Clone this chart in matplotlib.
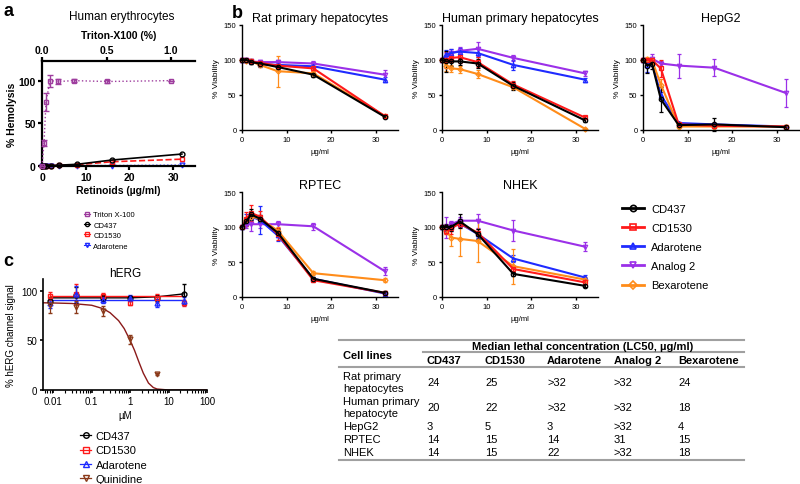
import matplotlib
matplotlib.use('Agg')
import numpy as np
import matplotlib.pyplot as plt
from matplotlib.lines import Line2D

plt.rcParams['font.family'] = ['Liberation Sans', 'DejaVu Sans']

# === panel a: hemolysis ===
retinoid_x = [0, 0.5, 1, 2, 4, 8, 16, 32]
hem_cd437 = [0, 0, 0, 0.5, 1, 2, 7, 14]
hem_cd1530 = [0, 0, 0, 0.3, 0.8, 1.5, 5, 8]
hem_adarotene = [0, 0, 0, 0, 0, 0.5, 0.5, 1]
triton_pct = [0, 0.0156, 0.031, 0.0625, 0.125, 0.25, 0.5, 1.0]
hem_triton = [0, 27, 75, 100, 99, 100, 99, 100]
hem_triton_err = [0, 3, 10, 7, 3, 2, 2, 0]

# === panel b: viability ===
conc = [0, 1, 2, 4, 8, 16, 32]
compounds = ['CD437', 'CD1530', 'Adarotene', 'Analog 2', 'Bexarotene']

rat = {
    'CD437': [100, 100, 97, 95, 90, 79, 19],
    'CD1530': [100, 100, 98, 96, 92, 88, 20],
    'Adarotene': [100, 100, 98, 94, 93, 91, 72],
    'Analog 2': [100, 100, 98, 97, 97, 95, 79],
    'Bexarotene': [100, 99, 98, 93, 84, 81, 20],
}
rat_err = {
    'CD437': [0, 2, 3, 3, 3, 3, 2],
    'CD1530': [0, 2, 2, 2, 2, 3, 2],
    'Adarotene': [0, 2, 3, 4, 3, 3, 4],
    'Analog 2': [0, 2, 2, 3, 3, 3, 7],
    'Bexarotene': [0, 2, 3, 3, 22, 3, 2],
}
human = {
    'CD437': [100, 98, 98, 98, 95, 63, 14],
    'CD1530': [100, 100, 103, 104, 97, 65, 18],
    'Adarotene': [100, 108, 110, 112, 110, 93, 72],
    'Analog 2': [100, 105, 110, 113, 116, 103, 81],
    'Bexarotene': [100, 92, 88, 87, 80, 61, 2],
}
human_err = {
    'CD437': [0, 15, 7, 5, 6, 6, 3],
    'CD1530': [0, 12, 6, 8, 7, 5, 2],
    'Adarotene': [0, 6, 5, 5, 6, 7, 3],
    'Analog 2': [0, 5, 5, 6, 10, 4, 4],
    'Bexarotene': [0, 8, 5, 5, 6, 3, 1],
}
hepg2 = {
    'CD437': [100, 92, 95, 44, 7, 8, 4],
    'CD1530': [100, 100, 100, 88, 8, 6, 5],
    'Adarotene': [100, 93, 97, 50, 10, 8, 5],
    'Analog 2': [100, 98, 102, 95, 92, 89, 53],
    'Bexarotene': [100, 101, 100, 65, 5, 5, 5],
}
hepg2_err = {
    'CD437': [0, 10, 8, 18, 3, 9, 2],
    'CD1530': [0, 3, 3, 12, 2, 2, 2],
    'Adarotene': [0, 10, 5, 5, 2, 2, 1],
    'Analog 2': [0, 3, 6, 3, 17, 12, 20],
    'Bexarotene': [0, 3, 3, 8, 2, 2, 2],
}
rptec = {
    'CD437': [100, 108, 118, 112, 92, 26, 6],
    'CD1530': [100, 112, 120, 115, 90, 24, 6],
    'Adarotene': [100, 110, 115, 110, 88, 26, 5],
    'Analog 2': [100, 103, 104, 104, 104, 101, 37],
    'Bexarotene': [100, 110, 115, 112, 95, 34, 24],
}
rptec_err = {
    'CD437': [0, 5, 8, 5, 5, 3, 2],
    'CD1530': [0, 10, 12, 8, 8, 3, 2],
    'Adarotene': [0, 8, 5, 20, 8, 3, 2],
    'Analog 2': [0, 5, 10, 5, 5, 5, 6],
    'Bexarotene': [0, 5, 5, 5, 5, 3, 3],
}
nhek = {
    'CD437': [100, 100, 100, 108, 90, 33, 16],
    'CD1530': [100, 95, 98, 105, 92, 40, 21],
    'Adarotene': [100, 97, 100, 105, 90, 55, 28],
    'Analog 2': [100, 100, 104, 109, 109, 95, 72],
    'Bexarotene': [100, 95, 85, 83, 80, 44, 25],
}
nhek_err = {
    'CD437': [0, 5, 5, 10, 7, 3, 2],
    'CD1530': [0, 5, 8, 5, 5, 4, 3],
    'Adarotene': [0, 5, 5, 5, 5, 5, 3],
    'Analog 2': [0, 15, 5, 5, 10, 15, 6],
    'Bexarotene': [0, 5, 12, 25, 30, 25, 3],
}

# === panel c: hERG ===
herg_x = [0.008, 0.04, 0.2, 1, 5, 25]
herg_cd437 = [90, 96, 93, 93, 93, 97]
herg_cd437_err = [3, 8, 3, 2, 3, 10]
herg_cd437_fit = [93, 93, 93, 93, 94, 97]
herg_cd1530 = [95, 97, 95, 88, 93, 88]
herg_cd1530_err = [4, 10, 3, 2, 4, 3]
herg_cd1530_fit = [95, 95, 95, 95, 95, 95]
herg_adarotene = [88, 97, 91, 93, 88, 90]
herg_adarotene_err = [5, 8, 3, 3, 4, 4]
herg_adarotene_fit = [91, 91, 91, 91, 91, 91]
quin_x = [0.008, 0.04, 0.2, 1, 5]
quin_y = [86, 84, 80, 51, 16]
quin_err = [8, 6, 5, 5, 1]
quin_fit_x = [0.0054, 0.01, 0.03, 0.1, 0.2, 0.3, 0.5, 0.7, 1.0, 1.3, 1.7, 2.2, 3.0, 4.0, 5.0, 10, 100]
quin_fit_y = [88, 87.8, 87.3, 85.5, 82, 78, 70, 62, 50, 40, 28, 17, 7, 2.5, 1, 0, 0]

# === table ===
table_cols = ['CD437', 'CD1530', 'Adarotene', 'Analog 2', 'Bexarotene']
table_rows = ['Rat primary\nhepatocytes', 'Human primary\nhepatocyte', 'HepG2', 'RPTEC', 'NHEK']
lc50 = [['24', '25', '>32', '>32', '24'],
        ['20', '22', '>32', '>32', '18'],
        ['3', '5', '3', '>32', '4'],
        ['14', '15', '14', '31', '15'],
        ['14', '15', '22', '>32', '18']]

colors = {'CD437': 'black', 'CD1530': '#ff1a1a', 'Adarotene': '#1f2bff',
          'Analog 2': '#9b30e8', 'Bexarotene': '#ff8c1a'}
markers = {'CD437': 'o', 'CD1530': 's', 'Adarotene': '^', 'Analog 2': 'v', 'Bexarotene': 'D'}
triton_color = '#9e3d9e'
quin_color = '#8b1a1a'

W, H = 800.0, 485.0
fig = plt.figure(figsize=(8, 4.85), dpi=100)


def px_axes(left, top, right, bottom):
    return fig.add_axes([left / W, 1 - bottom / H, (right - left) / W, (bottom - top) / H])


def ftext(x, y, s, **kw):
    fig.text(x / W, 1 - y / H, s, **kw)


def hline(x0, x1, y, lw=1.5, color='#a0a0a0'):
    fig.add_artist(Line2D([x0 / W, x1 / W], [1 - y / H, 1 - y / H], lw=lw, color=color))


def style_axes(ax, lw=1.0, size=5.5, bold=False):
    for s in ['top', 'right']:
        ax.spines[s].set_visible(False)
    for s in ['left', 'bottom']:
        ax.spines[s].set_linewidth(lw)
    ax.tick_params(direction='out', length=2.5, width=lw, labelsize=size, pad=1.5)
    if bold:
        for t in ax.get_xticklabels() + ax.get_yticklabels():
            t.set_fontweight('bold')


# === a ===
ax_a = px_axes(42, 62, 195, 167)
ax_a.plot(retinoid_x, hem_adarotene, color=colors['Adarotene'], ls=':', marker='v',
          mfc='none', ms=3.5, lw=1.0, clip_on=False)
ax_a.plot(retinoid_x, hem_cd1530, color=colors['CD1530'], ls='--', marker='s',
          mfc='none', ms=3.5, lw=1.2, clip_on=False)
ax_a.plot(retinoid_x, hem_cd437, color='black', ls='-', marker='o',
          mfc='none', ms=3.5, lw=1.2, clip_on=False)
ax_a.set_xlim(0, 35)
ax_a.set_ylim(0, 123)
ax_a.set_xticks([0, 10, 20, 30])
ax_a.set_yticks([0, 50, 100])
style_axes(ax_a, lw=1.6, size=7.5, bold=True)
ax_a.tick_params(length=3)
ax_a.set_xlabel('Retinoids (\u00b5g/ml)', fontsize=7.5, fontweight='bold', labelpad=2)
ax_a.set_ylabel('% Hemolysis', fontsize=7.5, fontweight='bold', labelpad=1)

ax_t = ax_a.twiny()
ax_t.errorbar(triton_pct, hem_triton, yerr=hem_triton_err, color=triton_color, ls=':',
              marker='s', mfc='none', ms=3.5, lw=1.0, elinewidth=1.0, capsize=2, clip_on=False)
ax_t.set_xlim(0, 1.186)
ax_t.set_xticks([0, 0.5, 1.0])
ax_t.set_xticklabels(['0.0', '0.5', '1.0'])
for s in ['right', 'bottom', 'left']:
    ax_t.spines[s].set_visible(False)
ax_t.spines['top'].set_linewidth(1.6)
ax_t.tick_params(direction='out', length=3, width=1.6, labelsize=7.5, pad=1.5)
for t in ax_t.get_xticklabels():
    t.set_fontweight('bold')
ax_t.set_xlabel('Triton-X100 (%)', fontsize=7.5, fontweight='bold', labelpad=5)
ftext(122, 17, 'Human erythrocytes', fontsize=8.5, ha='center', va='center')

leg_a = [Line2D([], [], color=triton_color, marker='s', mfc='none', ms=3, lw=0.8),
         Line2D([], [], color='black', marker='o', mfc='none', ms=3, lw=0.8),
         Line2D([], [], color=colors['CD1530'], marker='s', mfc='none', ms=3, lw=0.8),
         Line2D([], [], color=colors['Adarotene'], marker='v', mfc='none', ms=3, lw=0.8)]
fig.legend(leg_a, ['Triton X-100', 'CD437', 'CD1530', 'Adarotene'], loc='upper left',
           bbox_to_anchor=(84 / W, 1 - 212 / H), frameon=False, fontsize=5.5,
           handlelength=0.8, handletextpad=0.4, labelspacing=0.4, borderpad=0, borderaxespad=0)

# === b ===
panels_b = [('Rat primary hepatocytes', rat, rat_err, 242, 26),
            ('Human primary hepatocytes', human, human_err, 442, 26),
            ('HepG2', hepg2, hepg2_err, 643, 26),
            ('RPTEC', rptec, rptec_err, 242, 193),
            ('NHEK', nhek, nhek_err, 442, 193)]
draw_order = ['Analog 2', 'Adarotene', 'Bexarotene', 'CD1530', 'CD437']
for title, means, errs, left, top in panels_b:
    ax = px_axes(left, top, left + 156, top + 105)
    for name in draw_order:
        ax.errorbar(conc, means[name], yerr=errs[name], color=colors[name], marker=markers[name],
                    mfc='none', ms=3.2 if name != 'Bexarotene' else 2.6, mew=0.9, lw=1.5,
                    elinewidth=0.9, capsize=1.5, clip_on=False)
    ax.set_xlim(0, 35)
    ax.set_ylim(0, 150)
    ax.set_xticks([0, 10, 20, 30])
    ax.set_yticks([0, 50, 100, 150])
    style_axes(ax, lw=1.0, size=5.5)
    ax.set_title(title, fontsize=9, pad=3)
    ax.set_xlabel('\u00b5g/ml', fontsize=5.5, labelpad=4)
    ax.set_ylabel('% Viability', fontsize=6, labelpad=3)

leg_b = [Line2D([], [], color=colors[n], marker=markers[n], mfc='none', ms=4.5, mew=1.2, lw=2)
         for n in compounds]
fig.legend(leg_b, compounds, loc='upper left', bbox_to_anchor=(622 / W, 1 - 205 / H),
           frameon=False, fontsize=8, handlelength=2.0, handletextpad=0.6,
           labelspacing=0.82, borderpad=0, borderaxespad=0)

# === c ===
ax_c = px_axes(43, 280, 207, 391)
ax_c.plot(herg_x, herg_cd437_fit, color='black', lw=1.0)
ax_c.plot(herg_x, herg_adarotene_fit, color=colors['Adarotene'], lw=1.0)
ax_c.plot(herg_x, herg_cd1530_fit, color=colors['CD1530'], lw=1.0)
ax_c.plot(quin_fit_x, quin_fit_y, color=quin_color, lw=1.0)
ax_c.errorbar(herg_x, herg_cd437, yerr=herg_cd437_err, color='black', ls='none', marker='o',
              mfc='none', ms=3.5, elinewidth=0.9, capsize=1.5, clip_on=False)
ax_c.errorbar(herg_x, herg_cd1530, yerr=herg_cd1530_err, color=colors['CD1530'], ls='none',
              marker='s', mfc='none', ms=3.5, elinewidth=0.9, capsize=1.5, clip_on=False)
ax_c.errorbar(herg_x, herg_adarotene, yerr=herg_adarotene_err, color=colors['Adarotene'],
              ls='none', marker='^', mfc='none', ms=3.5, elinewidth=0.9, capsize=1.5, clip_on=False)
ax_c.errorbar(quin_x, quin_y, yerr=quin_err, color='#8b3a1a', ls='none', marker='v',
              mfc='none', ms=3.5, elinewidth=0.9, capsize=1.5, clip_on=False)
ax_c.set_xscale('log')
ax_c.set_xlim(0.0054, 100)
ax_c.set_ylim(0, 112)
ax_c.set_xticks([0.01, 0.1, 1, 10, 100])
ax_c.set_xticklabels(['0.01', '0.1', '1', '10', '100'])
ax_c.set_yticks([0, 50, 100])
style_axes(ax_c, lw=1.2, size=7)
ax_c.tick_params(which='minor', direction='out', length=1.8, width=0.8)
ax_c.set_title('hERG', fontsize=8.5, pad=2)
ax_c.set_xlabel('\u00b5M', fontsize=7, labelpad=3)
ax_c.set_ylabel('% hERG channel signal', fontsize=7, labelpad=4)

leg_c = [Line2D([], [], color='black', marker='o', mfc='none', ms=4, lw=0.9),
         Line2D([], [], color=colors['CD1530'], marker='s', mfc='none', ms=4, lw=0.9),
         Line2D([], [], color=colors['Adarotene'], marker='^', mfc='none', ms=4, lw=0.9),
         Line2D([], [], color='#8b3a1a', marker='v', mfc='none', ms=4, lw=0.9)]
fig.legend(leg_c, ['CD437', 'CD1530', 'Adarotene', 'Quinidine'], loc='upper left',
           bbox_to_anchor=(80 / W, 1 - 432 / H), frameon=False, fontsize=8,
           handlelength=1.0, handletextpad=0.4, labelspacing=0.4, borderpad=0, borderaxespad=0)

# panel letters
ftext(3, 11, 'a', fontsize=13, fontweight='bold', ha='left', va='center')
ftext(232, 13, 'b', fontsize=13, fontweight='bold', ha='left', va='center')
ftext(3, 262, 'c', fontsize=13, fontweight='bold', ha='left', va='center')

# === table ===
col_x = [427, 485, 547, 614, 678]
row_y = [383, 408, 427, 440, 453]
hline(339, 744, 341)
hline(423, 744, 353)
hline(339, 744, 368)
hline(339, 744, 461)
ftext(583, 347, 'Median lethal concentration (LC50, \u00b5g/ml)', fontsize=8,
      fontweight='bold', ha='center', va='center')
ftext(343, 356, 'Cell lines', fontsize=8, fontweight='bold', ha='left', va='center')
for cx, name in zip(col_x, table_cols):
    ftext(cx, 361, name, fontsize=8, fontweight='bold', ha='left', va='center')
for ry, rname, vals in zip(row_y, table_rows, lc50):
    ftext(343, ry, rname, fontsize=8, ha='left', va='center', linespacing=1.15)
    for cx, v in zip(col_x, vals):
        ftext(cx, ry, v, fontsize=8, ha='left', va='center')

fig.savefig('out.png', dpi=100)
